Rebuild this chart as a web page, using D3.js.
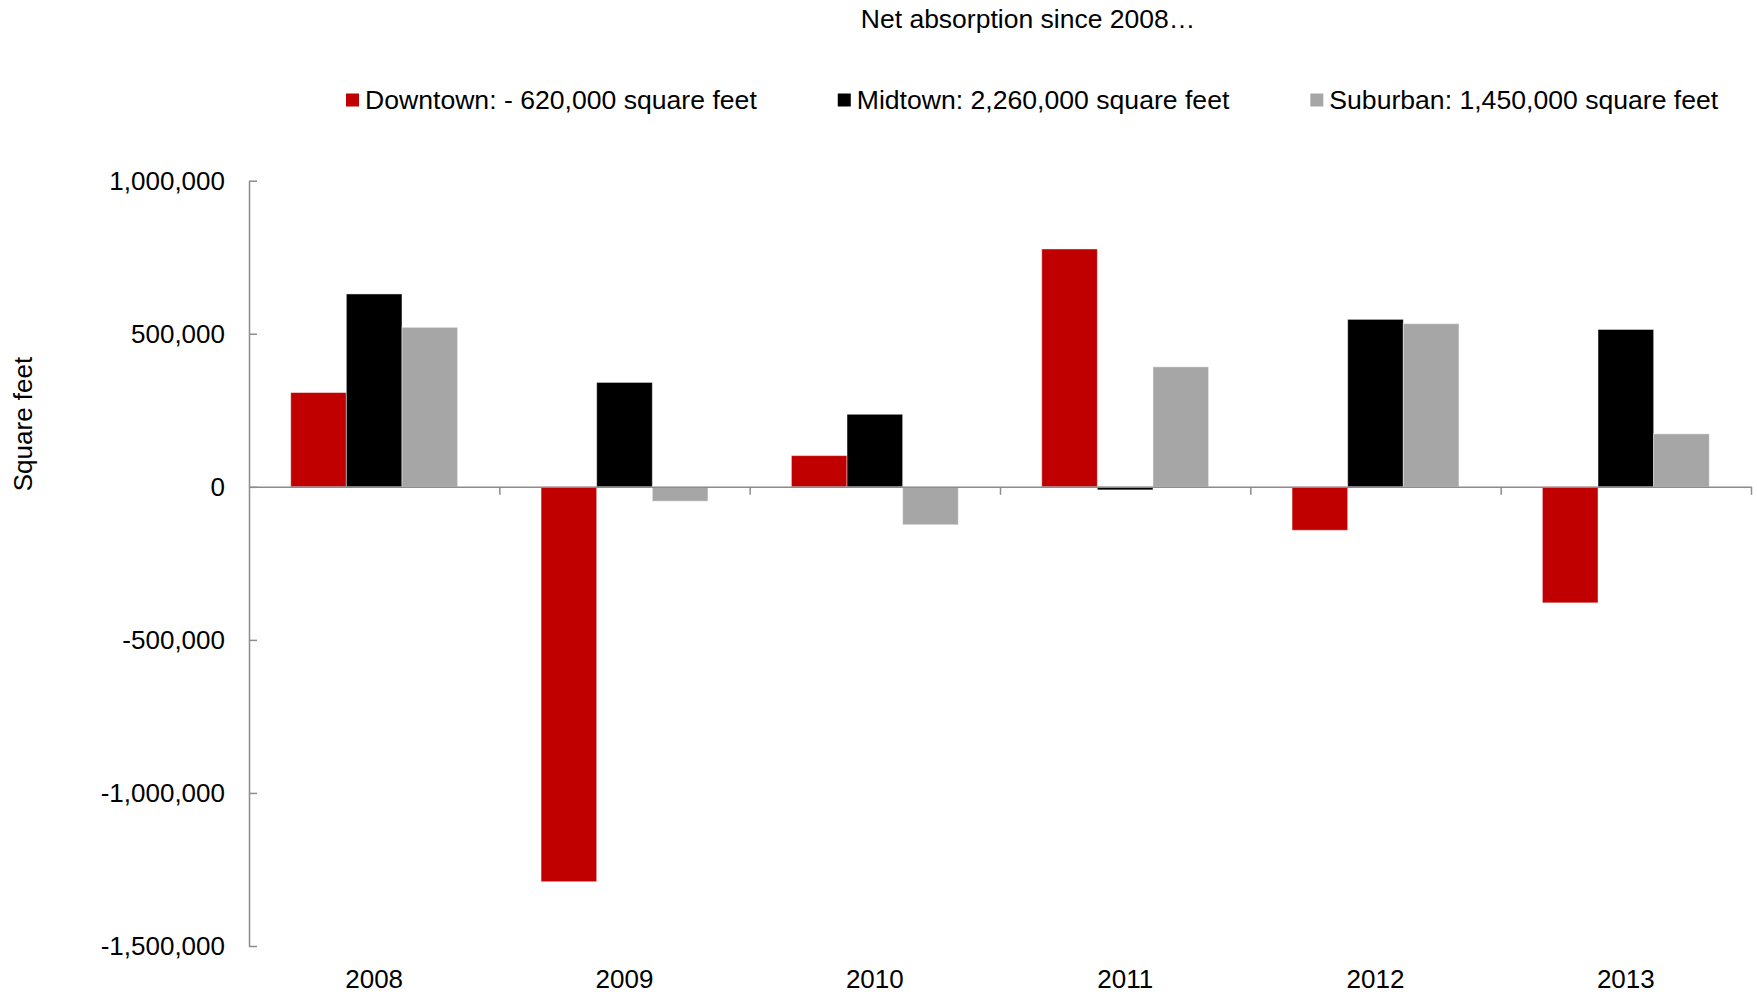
<!DOCTYPE html>
<html>
<head>
<meta charset="utf-8">
<script src="https://cdn.jsdelivr.net/npm/d3@7"></script>
<style>
  body { margin: 0; background: #fff; }
  svg { font-family: "Liberation Sans", Arial, sans-serif; }
</style>
</head>
<body>
<div></div>
<script>
// chart data
const years = ["2008", "2009", "2010", "2011", "2012", "2013"];
const seriesNames = ["Downtown", "Midtown", "Suburban"];
const legendLabels = [
  "Downtown: - 620,000 square feet",
  "Midtown: 2,260,000 square feet",
  "Suburban: 1,450,000 square feet"
];
const downtown = [308000, -1290000, 102000, 777000, -142000, -379000];
const midtown = [630000, 341000, 237000, -10000, 547000, 514000];
const suburban = [521000, -47000, -124000, 392000, 533000, 173000];
const yTicks = [-1500000, -1000000, -500000, 0, 500000, 1000000];

const w = 1757;
const h = 996;
const plotLeft = 249;
const plotRight = 1751;
const plotTop = 180.7;
const plotBottom = 946;
const colors = ["#c00000", "#000000", "#a6a6a6"];
const axisColor = "#8c8c8c";

const values = [downtown, midtown, suburban];
const rows = years.map((yr, i) => ({
  year: yr,
  vals: seriesNames.map((s, j) => ({ key: s, v: values[j][i], idx: j }))
}));

const svg = d3.select("div").append("svg").attr("width", w).attr("height", h);

const x = d3.scaleBand().domain(years).range([plotLeft, plotRight]).padding(0);
const xInner = d3
  .scaleBand()
  .domain(seriesNames)
  .range([0, x.bandwidth()])
  .paddingInner(0)
  .paddingOuter(0.75);
const y = d3.scaleLinear().domain([-1500000, 1000000]).range([plotBottom, plotTop]);

const loc = d3.formatLocale({
  decimal: ".",
  thousands: ",",
  grouping: [3],
  currency: ["$", ""],
  minus: "-"
});
const fmt = loc.format(",");

// title
svg
  .append("text")
  .attr("x", 1028)
  .attr("y", 19)
  .attr("dy", "0.35em")
  .attr("text-anchor", "middle")
  .style("font-size", "26.5px")
  .text("Net absorption since 2008\u2026");

// legend
let lx = 346;
legendLabels.forEach((lab, i) => {
  svg
    .append("rect")
    .attr("x", lx)
    .attr("y", 93.5)
    .attr("width", 13)
    .attr("height", 13)
    .attr("fill", colors[i]);
  const t = svg
    .append("text")
    .attr("x", lx + 19)
    .attr("y", 100)
    .attr("dy", "0.35em")
    .style("font-size", "26.6px")
    .text(lab);
  lx = lx + 19 + t.node().getComputedTextLength() + 81;
});

// y axis label
svg
  .append("text")
  .attr("transform", "translate(23," + 424 + ") rotate(-90)")
  .attr("dy", "0.35em")
  .attr("text-anchor", "middle")
  .style("font-size", "26px")
  .text("Square feet");

// bars
svg
  .append("g")
  .selectAll("g")
  .data(rows)
  .enter()
  .append("g")
  .attr("transform", (d) => "translate(" + x(d.year) + ",0)")
  .selectAll("rect")
  .data((d) => d.vals)
  .enter()
  .append("rect")
  .attr("x", (d) => xInner(d.key))
  .attr("width", xInner.bandwidth())
  .attr("y", (d) => Math.min(y(0), y(d.v)))
  .attr("height", (d) => Math.abs(y(d.v) - y(0)))
  .attr("fill", (d) => colors[d.idx])
  .attr("stroke", "rgba(255,255,255,0.45)")
  .attr("stroke-width", 1);

// y axis
const yAxis = svg
  .append("g")
  .attr("transform", "translate(" + plotLeft + ",0)")
  .call(
    d3
      .axisLeft(y)
      .tickValues(yTicks)
      .tickFormat(fmt)
      .tickSize(-8)
      .tickSizeOuter(0)
      .tickPadding(24)
  );
yAxis.select(".domain").attr("stroke", axisColor).attr("stroke-width", 1.5);
yAxis.selectAll(".tick line").attr("stroke", axisColor).attr("stroke-width", 1.5);
yAxis.selectAll(".tick text").style("font-size", "26px").attr("fill", "#000");

// zero line with category boundary ticks
const xb = d3.scaleLinear().domain([0, years.length]).range([plotLeft, plotRight]);
const zeroAxis = svg
  .append("g")
  .attr("transform", "translate(0," + y(0) + ")")
  .call(
    d3
      .axisBottom(xb)
      .tickValues(d3.range(1, years.length + 1))
      .tickFormat("")
      .tickSize(8)
      .tickSizeOuter(0)
  );
zeroAxis.select(".domain").attr("stroke", axisColor).attr("stroke-width", 1.5);
zeroAxis.selectAll(".tick line").attr("stroke", axisColor).attr("stroke-width", 1.5);

// category labels at the bottom
const xAxis = svg
  .append("g")
  .attr("transform", "translate(0," + plotBottom + ")")
  .call(d3.axisBottom(x).tickSize(0).tickPadding(24));
xAxis.select(".domain").remove();
xAxis.selectAll(".tick text").style("font-size", "26px").attr("fill", "#000");
</script>
</body>
</html>
